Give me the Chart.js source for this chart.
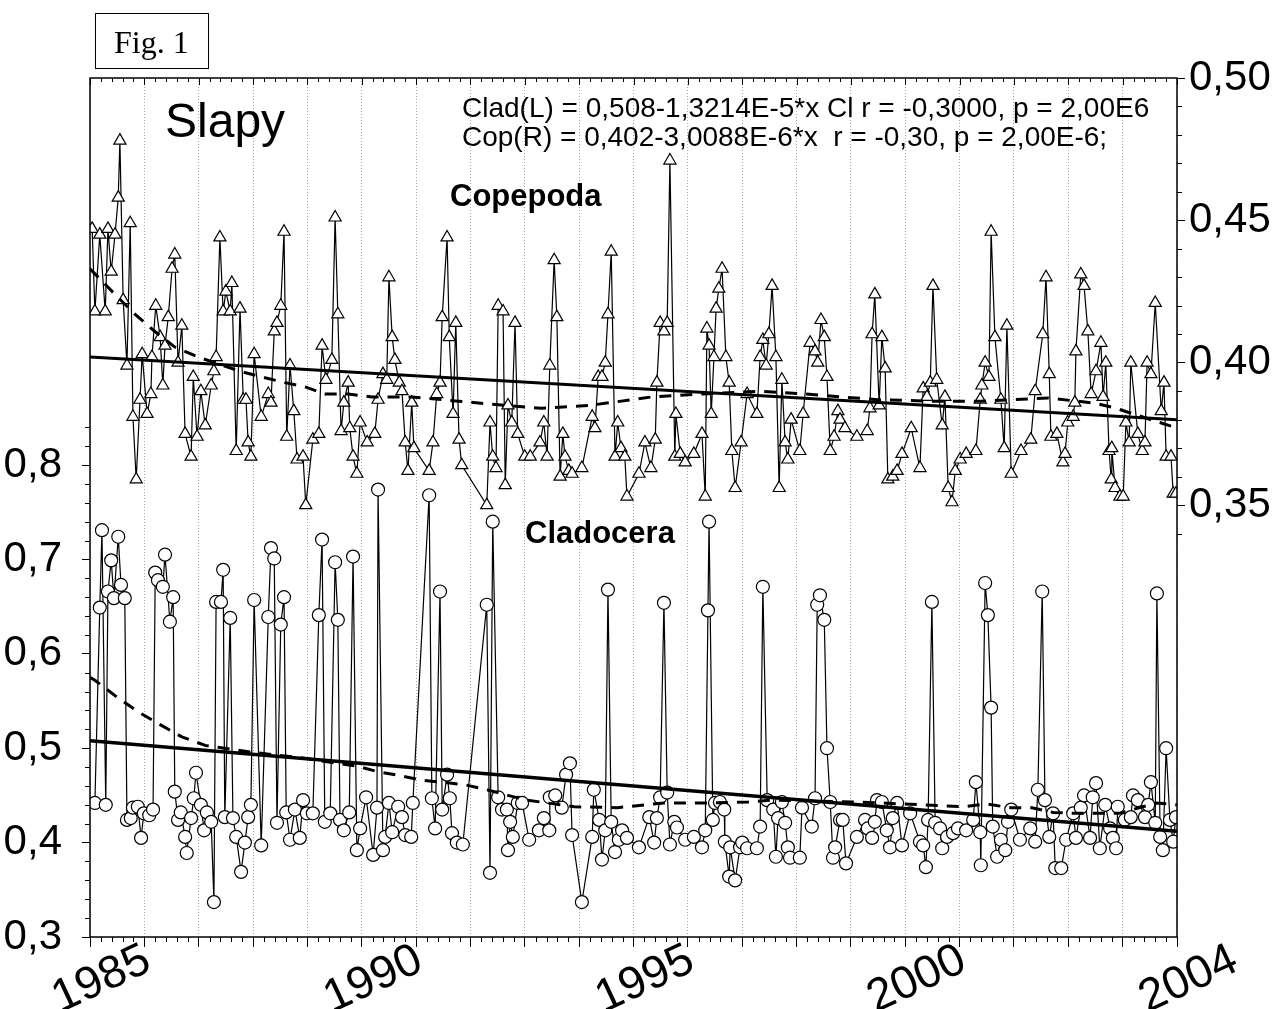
<!DOCTYPE html>
<html>
<head>
<meta charset="utf-8">
<script src="https://cdn.jsdelivr.net/npm/chart.js@4.4.1/dist/chart.umd.min.js"></script>
<style>
  html, body { margin: 0; padding: 0; background: #fff; }
  #wrap { position: relative; width: 1282px; height: 1009px; overflow: hidden; }
  .txt { position: absolute; font-family: "Liberation Sans", Arial, sans-serif; color: #000; white-space: pre; }
  #fig { position: absolute; left: 95px; top: 13px; height: 54px; width: 94px; padding-left: 18px; border: 1.5px solid #000;
         font: 32px "Liberation Serif", "Times New Roman", serif; line-height: 56px; }
</style>
</head>
<body>
<div id="wrap">
  <canvas id="chart-slapy" width="1282" height="1009"></canvas>
  <div id="fig">Fig. 1</div>
  <div class="txt" style="left:165px; top:97px; font-size:48px; line-height:48px;">Slapy</div>
  <div class="txt" style="left:462px; top:93px; font-size:28px; line-height:29px;">Clad(L) = 0,508-1,3214E-5*x Cl r = -0,3000, p = 2,00E6
Cop(R) = 0,402-3,0088E-6*x  r = -0,30, p = 2,00E-6;</div>
  <div class="txt" style="left:450px; top:180px; font-size:31px; line-height:31px; font-weight:bold;">Copepoda</div>
  <div class="txt" style="left:525px; top:517px; font-size:31px; line-height:31px; font-weight:bold;">Cladocera</div>
</div>
<script>
// Copepoda (right axis) sampling dates and values
const copDates = [
  1985.04,1985.09,1985.18,1985.28,1985.33,1985.39,1985.46,1985.52,1985.55,1985.61,
  1985.68,1985.74,1985.79,1985.85,1985.92,1985.96,1986.05,1986.12,1986.14,1986.21,
  1986.29,1986.34,1986.38,1986.44,1986.51,1986.56,1986.62,1986.69,1986.75,1986.86,
  1986.90,1986.97,1987.04,1987.12,1987.23,1987.28,1987.32,1987.39,1987.45,1987.50,
  1987.58,1987.61,1987.69,1987.76,1987.82,1987.87,1987.91,1987.96,1988.02,1988.15,
  1988.28,1988.33,1988.39,1988.44,1988.51,1988.57,1988.62,1988.68,1988.75,1988.81,
  1988.92,1988.97,1989.10,1989.21,1989.27,1989.34,1989.45,1989.51,1989.56,1989.62,
  1989.67,1989.75,1989.78,1989.84,1989.91,1989.97,1990.10,1990.24,1990.30,1990.39,
  1990.46,1990.50,1990.56,1990.61,1990.69,1990.74,1990.80,1990.85,1990.92,1990.96,
  1991.24,1991.31,1991.38,1991.44,1991.48,1991.57,1991.61,1991.68,1991.73,1991.79,
  1991.84,1992.30,1992.36,1992.41,1992.47,1992.51,1992.60,1992.64,1992.69,1992.76,
  1992.82,1992.87,1993.00,1993.10,1993.28,1993.35,1993.41,1993.46,1993.54,1993.59,
  1993.65,1993.70,1993.74,1993.81,1993.87,1994.05,1994.24,1994.29,1994.35,1994.42,
  1994.48,1994.53,1994.59,1994.66,1994.71,1994.77,1994.84,1994.88,1995.10,1995.21,
  1995.32,1995.40,1995.43,1995.49,1995.56,1995.62,1995.67,1995.76,1995.78,1995.86,
  1995.95,1996.11,1996.26,1996.32,1996.35,1996.39,1996.43,1996.48,1996.52,1996.57,
  1996.63,1996.70,1996.76,1996.81,1996.87,1996.98,1997.09,1997.27,1997.33,1997.38,
  1997.44,1997.49,1997.55,1997.62,1997.68,1997.73,1997.79,1997.84,1997.90,1998.06,
  1998.12,1998.25,1998.34,1998.39,1998.45,1998.51,1998.56,1998.62,1998.69,1998.76,
  1998.80,1998.89,1999.11,1999.30,1999.35,1999.39,1999.44,1999.52,1999.57,1999.63,
  1999.68,1999.77,1999.85,1999.94,2000.11,2000.27,2000.33,2000.40,2000.46,2000.51,
  2000.58,2000.68,2000.73,2000.79,2000.86,2000.92,2001.01,2001.12,2001.30,2001.38,
  2001.41,2001.47,2001.54,2001.58,2001.65,2001.76,2001.82,2001.87,2001.95,2002.13,
  2002.31,2002.39,2002.53,2002.59,2002.65,2002.68,2002.79,2002.90,2002.94,2002.99,
  2003.09,2003.12,2003.14,2003.23,2003.29,2003.36,2003.42,2003.51,2003.60,2003.64,
  2003.69,2003.75,2003.79,2003.80,2003.86,2003.95,2004.01,2004.06,2004.12,2004.15,
  2004.28,2004.36,2004.41,2004.45,2004.52,2004.60,2004.71,2004.76,2004.80,2004.89,2004.93,2004.98
];
const copValues = [
  0.447,0.418,0.445,0.418,0.447,0.432,0.445,0.458,0.478,0.422,
  0.399,0.449,0.381,0.359,0.387,0.403,0.382,0.389,0.402,0.420,
  0.409,0.392,0.406,0.416,0.433,0.438,0.400,0.413,0.375,0.367,
  0.395,0.374,0.390,0.378,0.392,0.397,0.402,0.444,0.418,0.425,
  0.418,0.428,0.369,0.419,0.387,0.387,0.372,0.367,0.403,0.381,
  0.389,0.386,0.411,0.414,0.420,0.446,0.374,0.399,0.383,0.366,
  0.367,0.350,0.373,0.375,0.406,0.394,0.401,0.451,0.417,0.376,
  0.386,0.393,0.377,0.367,0.361,0.379,0.372,0.375,0.387,0.396,
  0.394,0.430,0.409,0.401,0.393,0.390,0.372,0.362,0.386,0.370,
  0.362,0.372,0.389,0.393,0.416,0.444,0.409,0.382,0.414,0.373,
  0.364,0.350,0.379,0.367,0.363,0.420,0.418,0.357,0.385,0.379,
  0.414,0.375,0.367,0.367,0.372,0.379,0.367,0.399,0.436,0.416,
  0.360,0.375,0.367,0.362,0.361,0.363,0.381,0.377,0.395,0.395,
  0.400,0.417,0.439,0.367,0.379,0.370,0.367,0.353,0.361,0.372,
  0.363,0.373,0.393,0.414,0.411,0.414,0.471,0.367,0.382,0.368,
  0.365,0.368,0.375,0.353,0.412,0.406,0.382,0.402,0.419,0.426,
  0.433,0.402,0.393,0.369,0.356,0.372,0.389,0.382,0.402,0.408,
  0.399,0.410,0.427,0.402,0.356,0.394,0.372,0.366,0.380,0.369,
  0.382,0.407,0.404,0.400,0.415,0.409,0.395,0.369,0.374,0.383,
  0.380,0.377,0.374,0.376,0.384,0.410,0.424,0.385,0.409,0.398,
  0.359,0.360,0.362,0.368,0.377,0.363,0.391,0.388,0.393,0.427,
  0.394,0.378,0.388,0.356,0.351,0.362,0.366,0.368,0.369,0.387,
  0.392,0.400,0.395,0.446,0.409,0.387,0.370,0.413,0.361,0.369,
  0.373,0.390,0.410,0.430,0.396,0.374,0.375,0.365,0.368,0.379,
  0.381,0.386,0.404,0.431,0.427,0.411,0.389,0.397,0.407,0.388,
  0.400,0.369,0.359,0.370,0.356,0.353,0.353,0.379,0.372,0.400,
  0.375,0.369,0.372,0.400,0.396,0.421,0.383,0.393,0.367,0.367,0.354,0.354
];

// Cladocera (left axis) sampling dates and values
const cladDates = [
  1985.09,1985.18,1985.22,1985.29,1985.33,1985.39,1985.44,1985.52,1985.57,1985.64,
  1985.68,1985.75,1985.79,1985.88,1985.94,1985.99,1986.09,1986.16,1986.20,1986.25,
  1986.34,1986.38,1986.47,1986.53,1986.56,1986.62,1986.67,1986.75,1986.78,1986.86,
  1986.91,1986.95,1987.04,1987.10,1987.15,1987.23,1987.28,1987.32,1987.41,1987.45,
  1987.48,1987.58,1987.63,1987.69,1987.78,1987.85,1987.91,1987.96,1988.02,1988.15,
  1988.28,1988.33,1988.39,1988.44,1988.51,1988.57,1988.61,1988.68,1988.77,1988.86,
  1988.92,1988.99,1989.10,1989.21,1989.27,1989.32,1989.42,1989.51,1989.56,1989.60,
  1989.67,1989.77,1989.84,1989.91,1989.97,1990.08,1990.21,1990.28,1990.30,1990.39,
  1990.43,1990.50,1990.56,1990.67,1990.74,1990.80,1990.91,1990.94,1991.24,1991.29,
  1991.35,1991.44,1991.48,1991.57,1991.62,1991.66,1991.75,1991.86,1992.30,1992.36,
  1992.41,1992.51,1992.58,1992.67,1992.69,1992.73,1992.78,1992.87,1992.95,1993.08,
  1993.26,1993.35,1993.45,1993.46,1993.56,1993.68,1993.76,1993.83,1993.87,1994.05,
  1994.24,1994.27,1994.37,1994.42,1994.48,1994.53,1994.59,1994.66,1994.73,1994.79,
  1994.88,1995.10,1995.29,1995.38,1995.43,1995.49,1995.56,1995.62,1995.67,1995.75,
  1995.80,1995.95,1996.11,1996.26,1996.32,1996.37,1996.39,1996.46,1996.50,1996.59,
  1996.67,1996.68,1996.76,1996.78,1996.87,1996.96,1997.00,1997.09,1997.27,1997.33,
  1997.38,1997.46,1997.57,1997.62,1997.66,1997.73,1997.79,1997.84,1997.88,1998.06,
  1998.10,1998.28,1998.34,1998.38,1998.43,1998.51,1998.56,1998.62,1998.67,1998.71,
  1998.80,1998.85,1998.91,1999.11,1999.26,1999.31,1999.39,1999.44,1999.48,1999.57,
  1999.66,1999.72,1999.77,1999.85,1999.94,2000.09,2000.27,2000.33,2000.38,2000.42,
  2000.49,2000.55,2000.64,2000.68,2000.77,2000.88,2000.97,2001.12,2001.25,2001.30,
  2001.38,2001.39,2001.47,2001.52,2001.58,2001.61,2001.69,2001.76,2001.84,2001.89,
  2001.95,2002.11,2002.30,2002.39,2002.44,2002.52,2002.57,2002.65,2002.72,2002.76,
  2002.87,2002.96,2003.09,2003.14,2003.23,2003.29,2003.40,2003.45,2003.51,2003.58,
  2003.68,2003.77,2003.82,2003.88,2003.91,2004.04,2004.15,2004.19,2004.28,2004.41,
  2004.47,2004.52,2004.60,2004.63,2004.69,2004.74,2004.80,2004.87,2004.93,2004.98
];
const cladValues = [
  0.442,0.649,0.731,0.440,0.666,0.699,0.659,0.724,0.673,0.659,
  0.424,0.426,0.437,0.438,0.405,0.431,0.429,0.435,0.686,0.678,
  0.671,0.705,0.634,0.660,0.454,0.424,0.432,0.406,0.389,0.426,
  0.447,0.474,0.440,0.413,0.432,0.422,0.337,0.655,0.655,0.689,
  0.427,0.638,0.426,0.406,0.369,0.400,0.427,0.440,0.657,0.397,
  0.639,0.712,0.701,0.421,0.631,0.660,0.432,0.403,0.435,0.405,
  0.445,0.431,0.431,0.641,0.721,0.422,0.431,0.697,0.636,0.424,
  0.413,0.432,0.703,0.392,0.415,0.448,0.387,0.437,0.774,0.392,
  0.406,0.442,0.411,0.438,0.427,0.408,0.406,0.442,0.768,0.447,
  0.415,0.666,0.435,0.472,0.447,0.410,0.400,0.398,0.652,0.368,
  0.740,0.448,0.435,0.435,0.392,0.422,0.406,0.442,0.442,0.403,
  0.413,0.426,0.413,0.448,0.450,0.437,0.472,0.484,0.408,0.337,
  0.406,0.456,0.424,0.382,0.413,0.668,0.422,0.390,0.403,0.413,
  0.405,0.395,0.427,0.400,0.426,0.448,0.654,0.453,0.398,0.422,
  0.416,0.403,0.406,0.395,0.413,0.646,0.740,0.424,0.442,0.443,
  0.435,0.401,0.364,0.395,0.360,0.395,0.400,0.394,0.394,0.417,
  0.671,0.445,0.435,0.385,0.426,0.443,0.421,0.395,0.384,0.384,
  0.437,0.417,0.447,0.652,0.662,0.636,0.500,0.443,0.384,0.395,
  0.424,0.424,0.378,0.406,0.424,0.415,0.405,0.422,0.445,0.443,
  0.413,0.395,0.426,0.442,0.397,0.431,0.401,0.397,0.374,0.424,
  0.655,0.421,0.415,0.394,0.406,0.410,0.415,0.413,0.424,0.464,
  0.411,0.376,0.675,0.641,0.543,0.417,0.385,0.403,0.392,0.422,
  0.435,0.403,0.415,0.401,0.456,0.666,0.445,0.406,0.431,0.373,
  0.373,0.403,0.431,0.405,0.437,0.450,0.405,0.448,0.463,0.394,
  0.440,0.415,0.405,0.394,0.438,0.424,0.427,0.450,0.445,0.427,
  0.440,0.464,0.421,0.664,0.406,0.392,0.500,0.424,0.401,0.427
];

// smoothed curves (dashed)
const copSmoothDates = [1985.00,1985.46,1985.83,1986.16,1986.56,1986.99,1987.76,1988.16,1988.59,1988.96,1989.32,1989.75,1990.19,1990.92,1991.77,1992.64,1993.30,1994.18,1994.97,1995.34,1996.22,1997.33,1998.16,1999.50,2000.50,2001.38,2002.63,2003.49,2003.86,2004.65,2005.00];
const copSmoothValues = [0.433,0.424,0.417,0.4115,0.4055,0.402,0.397,0.395,0.393,0.3915,0.389,0.389,0.388,0.388,0.3865,0.385,0.384,0.385,0.387,0.388,0.389,0.390,0.389,0.387,0.3865,0.3865,0.3876,0.3858,0.3841,0.3792,0.3771];
const cladSmoothDates = [1985.00,1985.09,1985.50,1985.90,1986.29,1986.69,1987.12,1987.94,1988.86,1989.91,1990.30,1990.70,1991.11,1991.49,1991.92,1992.30,1992.69,1993.04,1993.91,1994.70,1995.56,1996.35,1997.11,1997.51,1999.17,2001.08,2001.49,2001.93,2002.33,2002.72,2003.10,2003.51,2003.93,2004.63,2005.00];
const cladSmoothValues = [0.575,0.572,0.554,0.538,0.525,0.512,0.503,0.496,0.490,0.481,0.475,0.471,0.466,0.464,0.461,0.456,0.450,0.445,0.438,0.437,0.442,0.442,0.443,0.445,0.443,0.438,0.441,0.437,0.437,0.432,0.431,0.431,0.431,0.442,0.440];

// linear trends (end values)
const trendDates = [1985, 2005];
const copTrend = [0.402, 0.380];
const cladTrend = [0.508, 0.412];

// x axis labels: the last tick is printed as 2004 in the original
const xLabelYears = [1985, 1990, 1995, 2000, 2005];
const xLabelTexts = ['1985', '1990', '1995', '2000', '2004'];

const pts = (xs, ys) => xs.map((x, i) => ({ x: x, y: ys[i] }));
const font = '"Liberation Sans", Arial, sans-serif';

const frameTicks = {
    id: 'frameTicks',
    afterDraw(chart) {
        const { ctx, chartArea: a, scales } = chart;
        ctx.save();
        ctx.strokeStyle = '#000';
        ctx.lineWidth = 1;
        ctx.beginPath();
        // minor ticks on bottom, ticks on top edge
        for (let k = 0; k <= 100; k++) {
            const x = Math.round(scales.x.getPixelForValue(1985 + k * 0.2)) + 0.5;
            const major = k % 5 === 0;
            if (!major) { ctx.moveTo(x, a.bottom); ctx.lineTo(x, a.bottom + 5); }
            ctx.moveTo(x, a.top); ctx.lineTo(x, a.top + (major ? 7 : 4));
        }
        // left minor ticks 0.32 .. 0.84
        for (let k = 1; k <= 27; k++) {
            if (k % 5 === 0) continue;
            const y = Math.round(scales.y.getPixelForValue(0.3 + k * 0.02)) + 0.5;
            ctx.moveTo(a.left, y); ctx.lineTo(a.left - 5, y);
        }
        // right minor ticks 0.34 .. 0.50
        for (let k = 0; k <= 16; k++) {
            if (k % 5 === 1) continue;
            const y = Math.round(scales.y2.getPixelForValue(0.34 + k * 0.01)) + 0.5;
            ctx.moveTo(a.right, y); ctx.lineTo(a.right + 5, y);
        }
        ctx.stroke();
        ctx.lineWidth = 1.5;
        ctx.strokeRect(a.left, a.top, a.right - a.left, a.bottom - a.top);
        ctx.restore();
    }
};

new Chart(document.getElementById('chart-slapy'), {
    type: 'line',
    data: {
        datasets: [
            { data: pts(trendDates, copTrend), yAxisID: 'y2', borderColor: '#000', borderWidth: 3, pointRadius: 0 },
            { data: pts(trendDates, cladTrend), yAxisID: 'y', borderColor: '#000', borderWidth: 3.5, pointRadius: 0 },
            { data: pts(copSmoothDates, copSmoothValues), yAxisID: 'y2', borderColor: '#000', borderWidth: 3, borderDash: [12, 9], pointRadius: 0 },
            { data: pts(cladSmoothDates, cladSmoothValues), yAxisID: 'y', borderColor: '#000', borderWidth: 3, borderDash: [12, 9], pointRadius: 0 },
            {
                label: 'Copepoda', data: pts(copDates, copValues), yAxisID: 'y2',
                borderColor: '#000', borderWidth: 1.2, pointStyle: 'triangle', pointRadius: 7,
                pointBackgroundColor: '#fff', pointBorderColor: '#000', pointBorderWidth: 1.2
            },
            {
                label: 'Cladocera', data: pts(cladDates, cladValues), yAxisID: 'y',
                borderColor: '#000', borderWidth: 1.2, pointStyle: 'circle', pointRadius: 6.5,
                pointBackgroundColor: '#fff', pointBorderColor: '#000', pointBorderWidth: 1.2
            }
        ]
    },
    options: {
        responsive: false,
        animation: false,
        layout: { padding: { top: 78, left: 0, right: 0, bottom: 0 } },
        elements: { line: { tension: 0 } },
        plugins: { legend: { display: false }, tooltip: { enabled: false } },
        scales: {
            x: {
                type: 'linear', min: 1985, max: 2005,
                border: { display: false, dash: [1, 2] },
                grid: { color: '#a8a8a8', lineWidth: 1, tickColor: '#000', tickLength: 10 },
                ticks: {
                    stepSize: 1, autoSkip: false, minRotation: 25, maxRotation: 25,
                    labelOffset: 58, padding: -14,
                    color: '#000', font: { family: font, size: 46 },
                    callback: v => {
                        const i = xLabelYears.findIndex(y => Math.abs(y - v) < 1e-6);
                        return i >= 0 ? xLabelTexts[i] : '';
                    }
                },
                afterFit: s => { s.height = 72; s.paddingLeft = 0; s.paddingRight = 0; }
            },
            y: {
                position: 'left', min: 0.3, max: 1.21,
                border: { display: false },
                grid: { drawOnChartArea: false, tickColor: '#000', tickLength: 8 },
                ticks: {
                    stepSize: 0.1, padding: 20, color: '#000', font: { family: font, size: 42 },
                    callback: v => v.toFixed(1).replace('.', ',')
                },
                afterBuildTicks: s => { s.ticks = s.ticks.filter(t => t.value <= 0.8001); },
                afterFit: s => { s.width = 90; }
            },
            y2: {
                position: 'right', min: 0.1983, max: 0.5,
                border: { display: false },
                grid: { drawOnChartArea: false, tickColor: '#000', tickLength: 8 },
                ticks: {
                    stepSize: 0.05, padding: 4, color: '#000', font: { family: font, size: 42 },
                    callback: v => v.toFixed(2).replace('.', ',')
                },
                afterBuildTicks: s => { s.ticks = s.ticks.filter(t => t.value >= 0.3499); },
                afterFit: s => { s.width = 105; }
            }
        }
    },
    plugins: [frameTicks]
});
</script>
</body>
</html>
